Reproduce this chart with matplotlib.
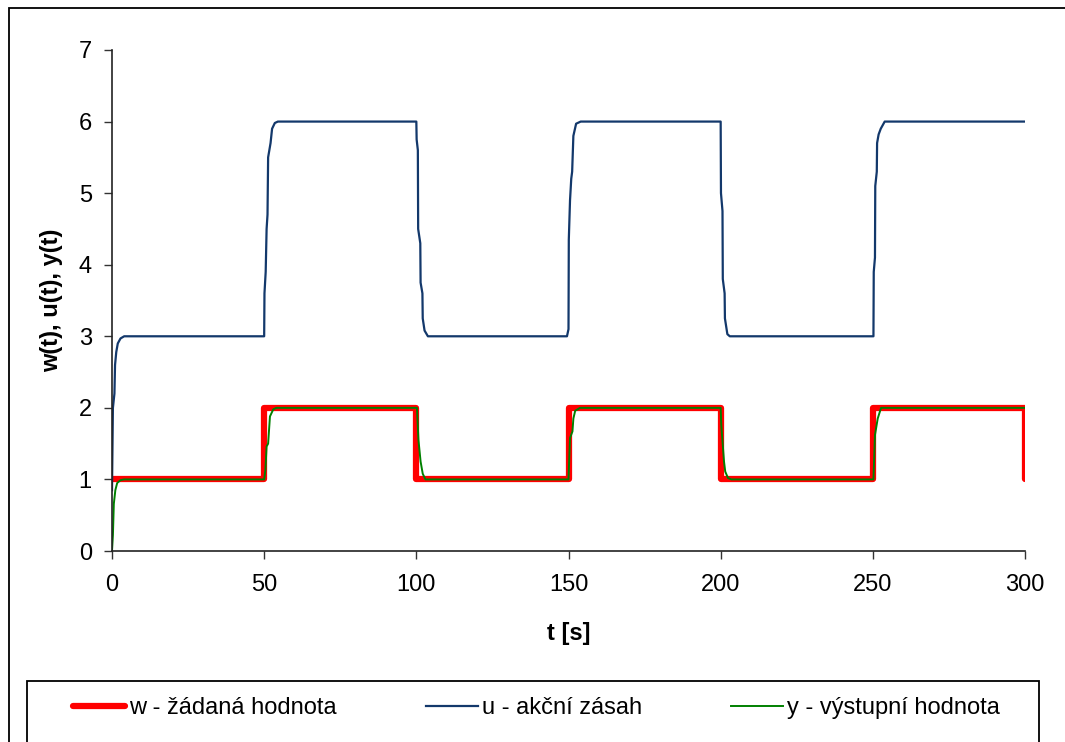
import matplotlib.pyplot as plt
from matplotlib.patches import Rectangle

plt.rcParams['font.family'] = ['Liberation Sans', 'DejaVu Sans']

# w - setpoint (step changes every 50 s)
w_t = [0, 50, 50, 100, 100, 150, 150, 200, 200, 250, 250, 300, 300]
w_val = [1, 1, 2, 2, 1, 1, 2, 2, 1, 1, 2, 2, 1]

# u - control action
u_t = [0, 0.3, 0.8, 1.0, 1.4, 1.9, 2.8, 4.0, 50.0,
       50.1, 50.5, 50.8, 51.1, 51.3, 52.1, 52.6, 53.5, 54.5, 100.0,
       100.1, 100.5, 100.6, 101.3, 101.4, 102.0, 102.1, 102.7, 103.8, 149.5,
       150.0, 150.1, 150.5, 150.9, 151.2, 151.6, 152.5, 154.0, 200.0,
       200.1, 200.6, 200.7, 201.3, 201.4, 202.2, 203.0, 250.2,
       250.3, 250.7, 250.8, 251.3, 251.4, 251.9, 252.6, 253.9, 300.0]
u_val = [0.85, 2.0, 2.2, 2.6, 2.78, 2.9, 2.97, 3.0, 3.0,
         3.6, 3.9, 4.5, 4.7, 5.5, 5.7, 5.9, 5.98, 6.0, 6.0,
         5.75, 5.6, 4.5, 4.3, 3.75, 3.6, 3.25, 3.08, 3.0, 3.0,
         3.1, 4.35, 4.9, 5.2, 5.3, 5.8, 5.97, 6.0, 6.0,
         5.0, 4.75, 3.8, 3.6, 3.25, 3.03, 3.0, 3.0,
         3.9, 4.1, 5.1, 5.3, 5.7, 5.82, 5.9, 6.0, 6.0]

# y - process output
y_t = [0, 0.3, 0.6, 1.1, 1.7, 2.8, 4.0, 50.0,
       50.4, 50.8, 51.3, 51.9, 53.0, 54.0, 100.2,
       100.7, 101.4, 102.1, 103.0, 150.0,
       150.5, 151.3, 151.6, 152.2, 153.8, 200.0,
       200.2, 201.1, 201.5, 202.4, 203.5, 250.2,
       250.7, 251.6, 252.7, 300.0]
y_val = [0, 0.22, 0.66, 0.85, 0.95, 0.99, 1.0, 1.0,
         1.13, 1.46, 1.5, 1.88, 1.98, 2.0, 2.0,
         1.55, 1.25, 1.08, 1.0, 1.0,
         1.58, 1.67, 1.85, 1.96, 2.0, 2.0,
         1.76, 1.25, 1.11, 1.02, 1.0, 1.0,
         1.62, 1.85, 2.0, 2.0]

labels = ['w - žádaná hodnota', 'u - akční zásah', 'y - výstupní hodnota']

W, H = 1065, 742
fig = plt.figure(figsize=(W / 100, H / 100), dpi=100)
ax = fig.add_axes([112 / W, 1 - 551 / H, (1025 - 112) / W, (551 - 50) / H])

ax.plot(w_t, w_val, color='#FF0000', lw=4.5, solid_capstyle='round',
        solid_joinstyle='round', label=labels[0])
ax.plot(u_t, u_val, color='#13386B', lw=1.6, label=labels[1])
ax.plot(y_t, y_val, color='#008000', lw=1.4, label=labels[2])

ax.set_xlim(0, 300)
ax.set_ylim(0, 7)
ax.set_xticks(range(0, 301, 50))
ax.set_yticks(range(0, 8))
ax.tick_params(direction='out', length=5.5, width=1, labelsize=17,
               color='#333333')
ax.tick_params(axis='x', pad=11)
ax.tick_params(axis='y', pad=9)
for s in ['top', 'right']:
    ax.spines[s].set_visible(False)
for s in ['left', 'bottom']:
    ax.spines[s].set_linewidth(1.2)
    ax.spines[s].set_color('#222222')

ax.set_xlabel('t [s]', fontsize=17, fontweight='bold')
ax.xaxis.set_label_coords(0.5, (551 - 622) / 501)
ax.set_ylabel('w(t), u(t), y(t)', fontsize=17, fontweight='bold')
ax.yaxis.set_label_coords((63 - 112) / 913, 0.5)

# outer chart frame (cropped on right and bottom)
fig.patches.append(Rectangle((9 / W, -0.1), 1.2, 1 - 8 / H + 0.1,
                             transform=fig.transFigure, fill=False,
                             lw=1.3, ec='black', clip_on=False))
# legend frame
fig.patches.append(Rectangle((27 / W, -0.1), (1039 - 27) / W, 1 - 681 / H + 0.1,
                             transform=fig.transFigure, fill=False,
                             lw=1.3, ec='black', clip_on=False))

handles, labs = ax.get_legend_handles_labels()
fig.legend(handles, labs, ncol=3, mode='expand', frameon=False,
           loc='center', bbox_to_anchor=(73 / W, 1 - 720 / H, (1000 - 73) / W, 24 / H),
           fontsize=17, handlelength=2.2, handletextpad=0.18, borderpad=0,
           borderaxespad=0)

fig.savefig('out.png', dpi=100)
